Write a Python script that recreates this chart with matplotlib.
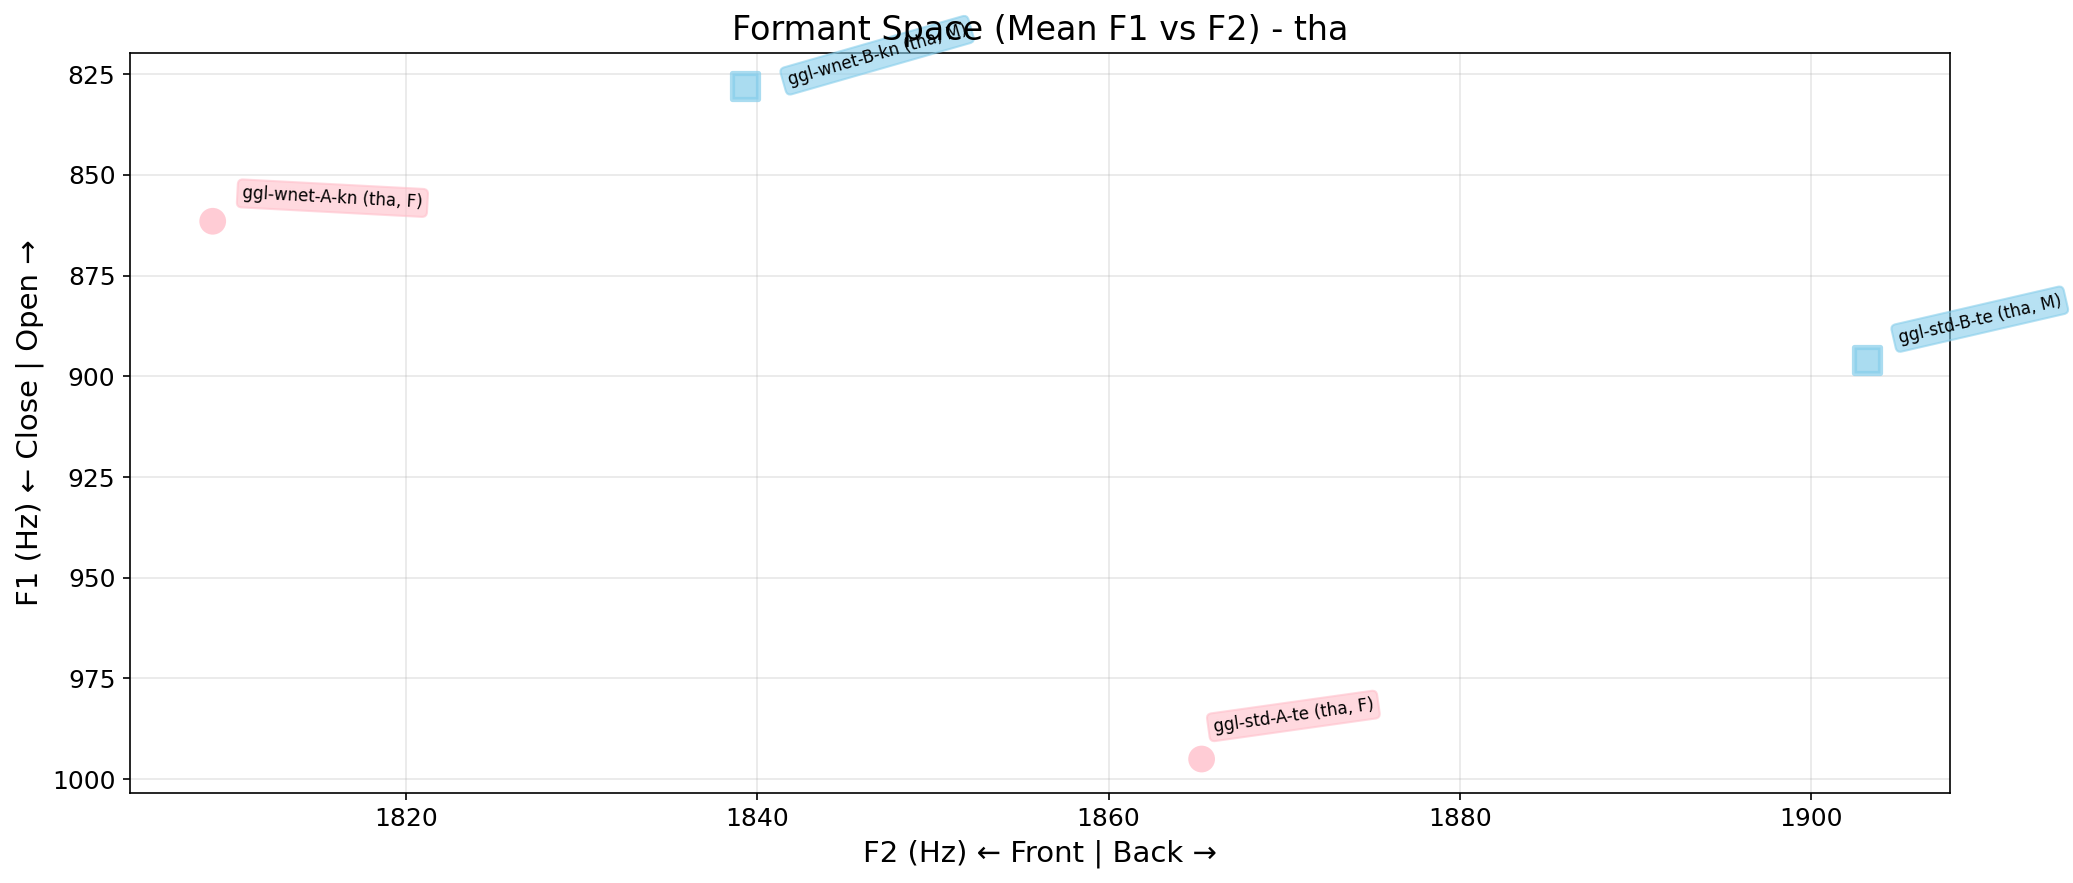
import matplotlib
matplotlib.use('Agg')
import matplotlib.pyplot as plt

# mean formants per speaker
speakers = ['ggl-wnet-A-kn', 'ggl-wnet-B-kn', 'ggl-std-B-te', 'ggl-std-A-te']
genders = ['F', 'M', 'M', 'F']
f2_means = [1809.0, 1839.3, 1903.2, 1865.3]
f1_means = [861.5, 828.0, 896.0, 995.0]
language = 'tha'

# label styling (rotation in degrees, offset in points)
label_rot = [-3, 16, 13, 8]
label_off = [(14, 4.5), (19.5, -1.5), (14, 6.5), (5, 11)]

fig, ax = plt.subplots(figsize=(13.82, 5.887), dpi=150)

for name, g, f2, f1, rot, off in zip(speakers, genders, f2_means, f1_means, label_rot, label_off):
    if g == 'F':
        ax.scatter(f2, f1, s=165, c='pink', marker='o', alpha=0.8, edgecolors='none', zorder=3)
        box_col = 'pink'
    else:
        ax.scatter(f2, f1, s=150, c='skyblue', marker='s', alpha=0.7,
                   edgecolors='skyblue', linewidths=2.5, zorder=3)
        box_col = 'skyblue'
    ax.annotate(f"{name} ({language}, {g})", (f2, f1), xytext=off,
                textcoords='offset points', fontsize=8, rotation=rot,
                ha='left', va='bottom',
                bbox=dict(boxstyle='round,pad=0.3', fc=box_col, ec=box_col, alpha=0.6))

ax.invert_yaxis()
ax.grid(True, alpha=0.3)
ax.set_xlabel('F2 (Hz) ← Front | Back →', fontsize=14)
ax.set_ylabel('F1 (Hz) ← Close | Open →', fontsize=14)
ax.set_title(f'Formant Space (Mean F1 vs F2) - {language}', fontsize=16)
ax.tick_params(labelsize=12)

fig.subplots_adjust(left=0.0627, right=0.9407, top=0.9403, bottom=0.1023)
plt.savefig('out.png', dpi=150)
